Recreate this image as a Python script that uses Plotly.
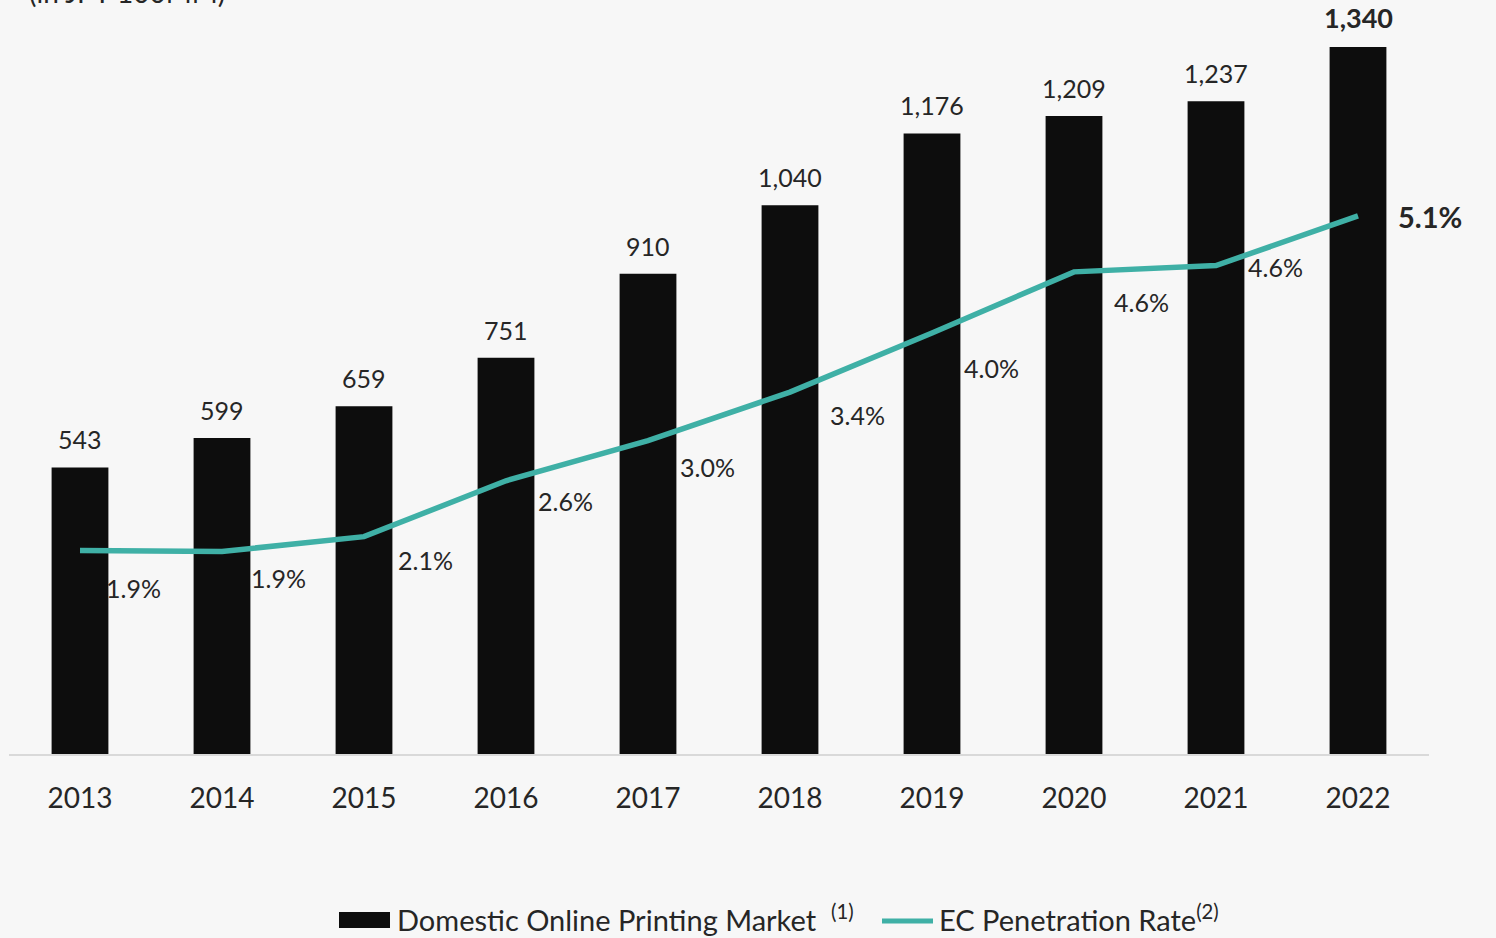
import plotly.graph_objects as go

# Market size (JPY 100MM) and EC penetration rate (%) by year
years = ["2013", "2014", "2015", "2016", "2017", "2018", "2019", "2020", "2021", "2022"]
market = [543, 599, 659, 751, 910, 1040, 1176, 1209, 1237, 1340]
penetration = [1.93, 1.92, 2.06, 2.59, 2.97, 3.43, 3.99, 4.57, 4.63, 5.1]

BAR = "#0d0d0d"
TEAL = "#3fb0a6"
TXT = "#262626"
FONT = "Lato"

W, H = 1496, 938
ML, MR, MT, MB = 9, 67, 0, 184
PW, PH = W - ML - MR, H - MT - MB


def px_x(px):
    return (px - ML) / PW


def px_y(py):
    return (H - MB - py) / PH


# pixel offsets for the rate labels (right of / below each point)
rate_dx = [53, 56, 61, 59, 59, 67, 59, 67, 59, 72]
rate_dy = [-38, -27, -23, -20, -26, -23, -35, -30, -1, -1]

fig = go.Figure()
fig.add_trace(go.Bar(
    x=years, y=market, name="Domestic Online Printing Market",
    marker=dict(color=BAR, line=dict(width=0)), width=0.4,
))
fig.add_trace(go.Scatter(
    x=years, y=penetration, yaxis="y2", mode="lines",
    name="EC Penetration Rate",
    line=dict(color=TEAL, width=5.5),
))

annotations = []
last = len(years) - 1
for i, v in enumerate(market):
    bold = i == last
    annotations.append(dict(
        x=i, y=v, xref="x", yref="y", text=f"<b>{v:,}</b>" if bold else f"{v:,}",
        showarrow=False, yanchor="bottom", yshift=11,
        font=dict(family=FONT, size=27 if bold else 25, color=TXT),
    ))
for i, p in enumerate(penetration):
    bold = i == last
    annotations.append(dict(
        x=i, y=p, xref="x", yref="y2", text=f"<b>{p:.1f}%</b>" if bold else f"{p:.1f}%",
        showarrow=False, xanchor="center", yanchor="middle",
        xshift=rate_dx[i], yshift=rate_dy[i],
        font=dict(family=FONT, size=29 if bold else 25, color=TXT),
    ))
annotations.append(dict(
    x=0, y=1, xref="paper", yref="paper", text="(in JPY 100MM)",
    showarrow=False, xanchor="left", yanchor="middle", xshift=18, yshift=8,
    font=dict(family=FONT, size=28, color=TXT),
))

# legend drawn below the axis
legend_font = dict(family=FONT, size=29, color=TXT)
annotations += [
    dict(x=px_x(395), y=px_y(918), xref="paper", yref="paper",
         text="Domestic Online Printing Market  <sup>(1)</sup>", showarrow=False,
         xanchor="left", yanchor="middle", font=legend_font),
    dict(x=px_x(937), y=px_y(918), xref="paper", yref="paper",
         text="EC Penetration Rate<sup>(2)</sup>", showarrow=False,
         xanchor="left", yanchor="middle", font=legend_font),
]
shapes = [
    dict(type="rect", xref="paper", yref="paper",
         x0=px_x(339), x1=px_x(390), y0=px_y(928), y1=px_y(912),
         fillcolor=BAR, line=dict(width=0)),
    dict(type="line", xref="paper", yref="paper",
         x0=px_x(882), x1=px_x(933), y0=px_y(921), y1=px_y(921),
         line=dict(color=TEAL, width=5)),
]

fig.update_layout(
    width=W, height=H,
    margin=dict(l=ML, r=MR, t=MT, b=MB),
    paper_bgcolor="#f7f7f7", plot_bgcolor="#f7f7f7",
    font=dict(family=FONT, color=TXT),
    xaxis=dict(
        type="category", range=[-0.5, 9.5], showgrid=False, zeroline=False,
        showline=True, linecolor="#d9d9d9", linewidth=2,
        ticks="", tickfont=dict(family=FONT, size=28, color=TXT),
        ticklabelstandoff=18,
    ),
    yaxis=dict(range=[0, 1429], visible=False, showgrid=False),
    yaxis2=dict(range=[0, 7.147], overlaying="y", visible=False, showgrid=False),
    showlegend=False,
    annotations=annotations,
    shapes=shapes,
)

fig.write_html("out.html")
